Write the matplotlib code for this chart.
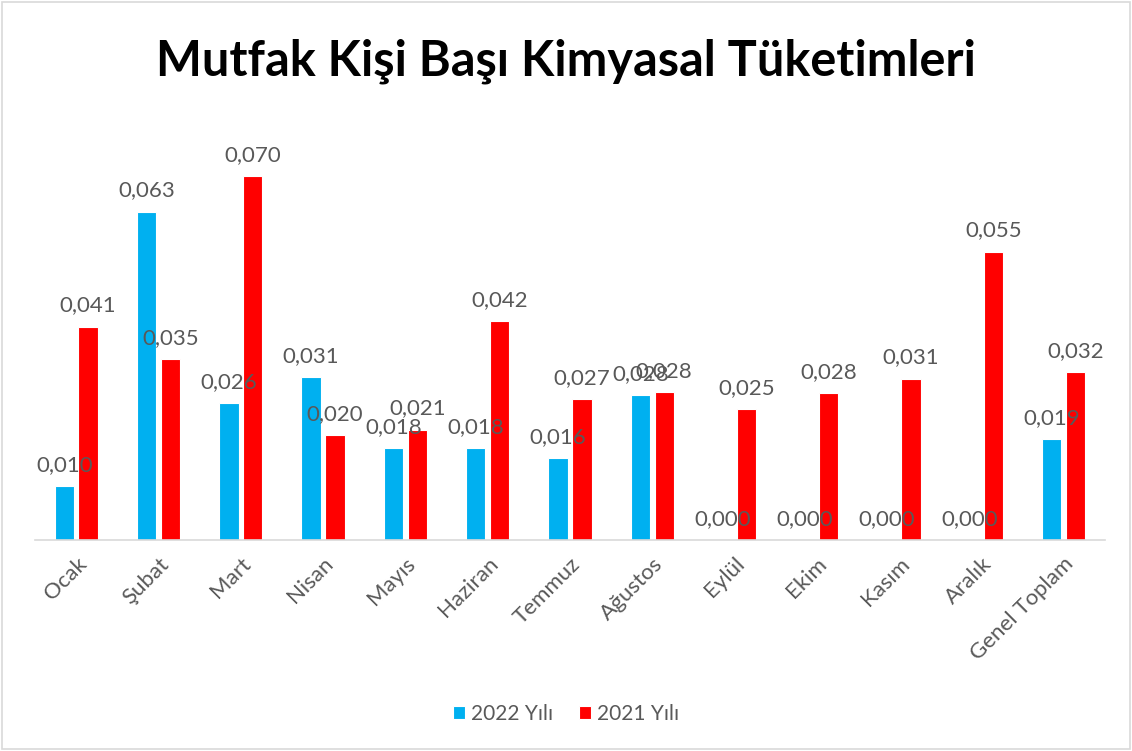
import matplotlib
matplotlib.use("Agg")
import matplotlib.pyplot as plt
from matplotlib.patches import Rectangle
import numpy as np

#---------DATOS---------

aylar = ['Ocak', 'Şubat', 'Mart', 'Nisan', 'Mayıs', 'Haziran', 'Temmuz',
         'Ağustos', 'Eylül', 'Ekim', 'Kasım', 'Aralık', 'Genel Toplam']
yil2022 = [0.0104, 0.0631, 0.0263, 0.0313, 0.0176, 0.0177, 0.0158,
           0.0279, 0.0, 0.0, 0.0, 0.0, 0.0194]
yil2021 = [0.0410, 0.0348, 0.0700, 0.0202, 0.0212, 0.0421, 0.0271,
           0.0284, 0.0252, 0.0283, 0.0310, 0.0554, 0.0323]
seriler = ['2022 Yılı', '2021 Yılı']

#---------ESTILO---------

plt.rcParams['font.family'] = ['Lato', 'DejaVu Sans']
gris = '#595959'
azul = '#00B0F0'
rojo = '#FF0000'

fig = plt.figure(figsize=(11.32, 7.51), dpi=100)
ax = fig.add_axes([0.031, 0.281, 0.945, 0.546])

x = np.arange(len(aylar))
ancho = 0.235
b1 = ax.bar(x - 0.145, yil2022, ancho, color=azul, edgecolor='white',
            linewidth=0.8, label=seriler[0])
b2 = ax.bar(x + 0.145, yil2021, ancho, color=rojo, edgecolor='white',
            linewidth=0.8, label=seriler[1])

for barras in (b1, b2):
    for b in barras:
        h = b.get_height()
        ax.annotate(('%.3f' % h).replace('.', ','),
                    (b.get_x() + b.get_width() / 2, h),
                    xytext=(0, 8), textcoords='offset points',
                    ha='center', va='bottom', fontsize=16, color=gris)

ax.set_xlim(-0.5, len(aylar) - 0.5)
ax.set_ylim(0, 0.0788)
ax.set_yticks([])
for lado in ['top', 'right', 'left']:
    ax.spines[lado].set_visible(False)
ax.spines['bottom'].set_color('#D9D9D9')
ax.spines['bottom'].set_linewidth(1.2)
ax.set_xticks(x)
ax.set_xticklabels(aylar, rotation=45, ha='right', rotation_mode='anchor',
                   fontsize=16, color=gris)
ax.tick_params(axis='x', length=0, pad=10)

fig.text(0.5, 0.918, 'Mutfak Kişi Başı Kimyasal Tüketimleri',
         ha='center', va='center', fontsize=35, fontweight='bold',
         color='black')

fig.legend(loc='center', bbox_to_anchor=(0.5, 0.049), ncol=2,
           frameon=False, fontsize=15, handlelength=0.6, handleheight=0.6,
           handletextpad=0.3, columnspacing=1.2, labelcolor=gris)

# borde del grafico
fig.patches.append(Rectangle((0.002, 0.002), 0.996, 0.996,
                             transform=fig.transFigure, fill=False,
                             edgecolor='#D9D9D9', linewidth=1.2))

fig.savefig('out.png', dpi=100)
